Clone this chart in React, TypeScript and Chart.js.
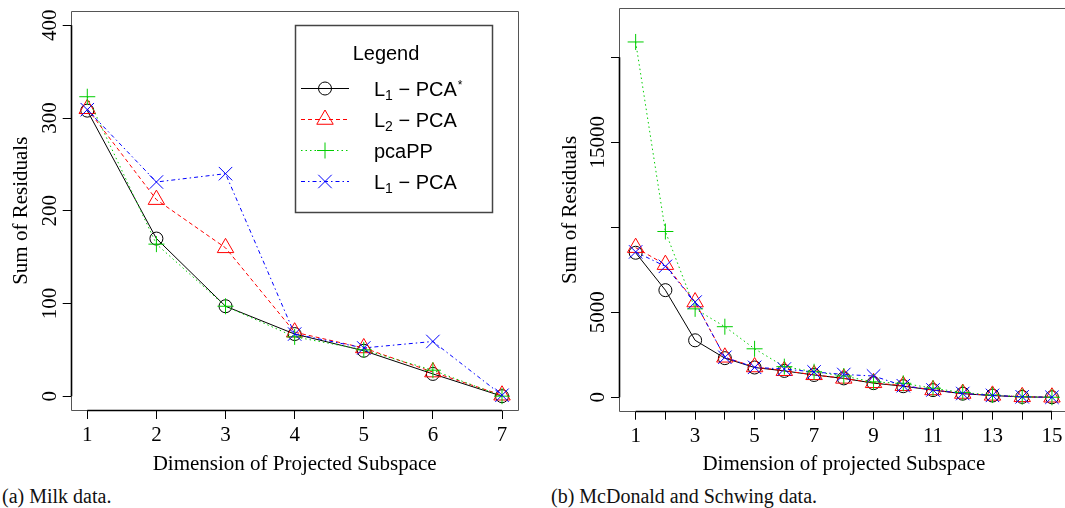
import React, { useEffect, useRef } from "react";
import { Chart, registerables } from "chart.js";
import { drawPoint } from "chart.js/helpers";

Chart.register(...registerables);

// ---------- data: (a) Milk data ----------
const milkDims = [1, 2, 3, 4, 5, 6, 7];
const milkL1Star = [308, 170, 97, 67, 49, 24, 0];
const milkL2 = [310, 212, 160, 69, 52, 26, 1];
const milkPcaPP = [323, 164, 97, 64, 50, 28, 0];
const milkL1 = [309, 231, 240, 67, 52, 59, 1];
const milkYTicks = [0, 100, 200, 300, 400];
const milkYLabels = ["0", "100", "200", "300", "400"];
const milkXLabels = ["1", "2", "3", "4", "5", "6", "7"];

// ---------- data: (b) McDonald and Schwing data ----------
const mcdDims = [1, 2, 3, 4, 5, 6, 7, 8, 9, 10, 11, 12, 13, 14, 15];
const mcdL1Star = [8500, 6300, 3350, 2300, 1750, 1550, 1310, 1110, 830, 650, 420, 210, 100, 20, 0];
const mcdL2 = [8800, 7800, 5600, 2350, 1780, 1560, 1320, 1110, 850, 680, 430, 220, 110, 25, 0];
const mcdPcaPP = [20900, 9750, 5200, 4150, 2850, 1800, 1500, 1250, 900, 820, 530, 280, 130, 30, 0];
const mcdL1 = [8550, 7700, 5600, 2350, 1760, 1660, 1490, 1340, 1250, 680, 430, 220, 110, 25, 0];
const mcdYTicks = [0, 5000, 10000, 15000, 20000];
const mcdYLabels = ["0", "5000", "", "15000", ""];
const mcdXLabels = ["1", "", "3", "", "5", "", "7", "", "9", "", "11", "", "13", "", "15"];

// ---------- series styling ----------
const seriesNames = ["L1-PCA*", "L2-PCA", "pcaPP", "L1-PCA"];
const seriesColors = ["#000000", "#FF0000", "#00CD00", "#0000FF"];
const seriesDashes: number[][] = [[], [4, 3], [1.5, 3], [4, 3, 1.5, 3]];
const seriesPointStyles = ["circle", "triangle", "cross", "crossRot"];
const seriesRadii = [6.5, 9.5, 8, 9.5];

// legend label parts
const legendMain = ["L", "L", "pcaPP", "L"];
const legendSub = ["1", "2", "", "1"];
const legendRest = [" \u2212 PCA", " \u2212 PCA", "", " \u2212 PCA"];
const legendSup = ["*", "", "", ""];

const SERIF = '"Liberation Serif", "Times New Roman", serif';
const SANS = '"Liberation Sans", Arial, sans-serif';

type Params = {
  xs: number[];
  series: number[][];
  xMin: number;
  xMax: number;
  yMin: number;
  yMax: number;
  yTicks: number[];
  yLabels: string[];
  xLabels: string[];
  xTitle: string;
  yTitle: string;
  yAxisWidth: number;
  xAxisHeight: number;
  padTop: number;
  padRight: number;
  yTitlePad: number;
  xTitlePad: number;
  legend: boolean;
};

function framePlugin(p: Params) {
  return {
    id: "rframe",
    beforeDatasetsDraw(chart: any) {
      const { ctx, chartArea: a, scales } = chart;
      ctx.save();
      // plot box
      ctx.strokeStyle = "#555";
      ctx.lineWidth = 1;
      ctx.setLineDash([]);
      ctx.beginPath();
      const L = Math.round(a.left) + 0.5;
      const T = Math.round(a.top) + 0.5;
      const R = Math.round(a.right) - 0.5;
      const B = Math.round(a.bottom) - 0.5;
      ctx.moveTo(L, B);
      ctx.lineTo(L, T);
      ctx.lineTo(R, T);
      ctx.lineTo(R, B);
      ctx.lineTo(L, B);
      ctx.stroke();
      // axis lines spanning the tick range
      ctx.strokeStyle = "#000";
      ctx.lineWidth = 1.6;
      const ys = scales.y;
      const xs = scales.x;
      ctx.beginPath();
      ctx.moveTo(L, ys.getPixelForValue(p.yTicks[0]));
      ctx.lineTo(L, ys.getPixelForValue(p.yTicks[p.yTicks.length - 1]));
      ctx.moveTo(xs.getPixelForValue(p.xs[0]), B);
      ctx.lineTo(xs.getPixelForValue(p.xs[p.xs.length - 1]), B);
      ctx.stroke();
      // rotated y tick labels
      ctx.fillStyle = "#000";
      ctx.font = `21px ${SERIF}`;
      ctx.textAlign = "center";
      ctx.textBaseline = "alphabetic";
      p.yTicks.forEach((v, i) => {
        const lab = p.yLabels[i];
        if (!lab) return;
        const y = ys.getPixelForValue(v);
        ctx.save();
        ctx.translate(a.left - 15, y);
        ctx.rotate(-Math.PI / 2);
        ctx.fillText(lab, 0, 0);
        ctx.restore();
      });
      ctx.restore();
    },
  };
}

const legendPlugin = {
  id: "rlegend",
  afterDatasetsDraw(chart: any) {
    const ctx = chart.ctx;
    ctx.save();
    ctx.setLineDash([]);
    ctx.fillStyle = "#fff";
    ctx.fillRect(295, 25, 197, 187);
    ctx.strokeStyle = "#444";
    ctx.lineWidth = 1.5;
    ctx.strokeRect(295.5, 25.5, 197, 187);
    ctx.fillStyle = "#000";
    ctx.font = `20px ${SANS}`;
    ctx.textAlign = "center";
    ctx.textBaseline = "alphabetic";
    ctx.fillText("Legend", 386, 59.5);
    ctx.textAlign = "left";
    for (let i = 0; i < seriesNames.length; i++) {
      const y = 88.5 + 31 * i;
      ctx.strokeStyle = seriesColors[i];
      ctx.lineWidth = 1;
      ctx.setLineDash(seriesDashes[i]);
      ctx.beginPath();
      ctx.moveTo(301, y);
      ctx.lineTo(349, y);
      ctx.stroke();
      ctx.setLineDash([]);
      ctx.fillStyle = "rgba(0,0,0,0)";
      drawPoint(ctx, { pointStyle: seriesPointStyles[i], radius: seriesRadii[i], borderWidth: 1, rotation: 0 } as any, 325, y);
      // label
      const base = y + 7.7;
      let x = 374;
      ctx.fillStyle = "#000";
      ctx.font = `20px ${SANS}`;
      ctx.fillText(legendMain[i], x, base);
      x += ctx.measureText(legendMain[i]).width;
      if (legendSub[i]) {
        ctx.font = `14px ${SANS}`;
        ctx.fillText(legendSub[i], x, base + 4);
        x += ctx.measureText(legendSub[i]).width;
      }
      if (legendRest[i]) {
        ctx.font = `20px ${SANS}`;
        ctx.fillText(legendRest[i], x, base);
        x += ctx.measureText(legendRest[i]).width;
      }
      if (legendSup[i]) {
        ctx.font = `12px ${SANS}`;
        ctx.fillText(legendSup[i], x + 1, base - 7);
      }
    }
    ctx.restore();
  },
};

function buildConfig(p: Params): any {
  const datasets = p.series.map((vals, i) => ({
    label: seriesNames[i],
    data: p.xs.map((x, j) => ({ x, y: vals[j] })),
    borderColor: seriesColors[i],
    backgroundColor: "rgba(0,0,0,0)",
    borderWidth: 1,
    borderDash: seriesDashes[i],
    pointStyle: seriesPointStyles[i],
    pointRadius: seriesRadii[i],
    pointBorderWidth: 1,
    pointBorderColor: seriesColors[i],
    pointBackgroundColor: "rgba(0,0,0,0)",
    tension: 0,
    order: 3 - i,
    clip: false,
  }));
  const gridOpts = {
    display: true,
    drawOnChartArea: false,
    drawTicks: true,
    tickLength: 8,
    color: "#000",
    lineWidth: 1,
  };
  return {
    type: "line",
    data: { datasets },
    options: {
      responsive: false,
      animation: false,
      events: [],
      devicePixelRatio: 1,
      layout: {
        autoPadding: false,
        padding: { left: 0, top: p.padTop, right: p.padRight, bottom: 0 },
      },
      plugins: { legend: { display: false }, tooltip: { enabled: false } },
      scales: {
        x: {
          type: "linear",
          position: "bottom",
          min: p.xMin,
          max: p.xMax,
          afterBuildTicks: (s: any) => {
            s.ticks = p.xs.map((v) => ({ value: v }));
          },
          afterFit: (s: any) => {
            s.height = p.xAxisHeight;
          },
          grid: gridOpts,
          border: { display: false },
          ticks: {
            autoSkip: false,
            maxRotation: 0,
            minRotation: 0,
            padding: 4,
            color: "#000",
            font: { family: SERIF, size: 21 },
            callback: (_v: any, i: number) => p.xLabels[i] ?? "",
          },
          title: {
            display: true,
            text: p.xTitle,
            color: "#000",
            font: { family: SERIF, size: 21 },
            padding: { top: 0, bottom: p.xTitlePad },
          },
        },
        y: {
          type: "linear",
          position: "left",
          min: p.yMin,
          max: p.yMax,
          afterBuildTicks: (s: any) => {
            s.ticks = p.yTicks.map((v) => ({ value: v }));
          },
          afterFit: (s: any) => {
            s.width = p.yAxisWidth;
          },
          grid: gridOpts,
          border: { display: false },
          ticks: { display: false },
          title: {
            display: true,
            text: p.yTitle,
            color: "#000",
            font: { family: SERIF, size: 21 },
            padding: { top: p.yTitlePad, bottom: 0 },
          },
        },
      },
    },
    plugins: p.legend ? [framePlugin(p), legendPlugin] : [framePlugin(p)],
  };
}

const milkParams: Params = {
  xs: milkDims,
  series: [milkL1Star, milkL2, milkPcaPP, milkL1],
  xMin: 0.76,
  xMax: 7.24,
  yMin: -16,
  yMax: 416,
  yTicks: milkYTicks,
  yLabels: milkYLabels,
  xLabels: milkXLabels,
  xTitle: "Dimension of Projected Subspace",
  yTitle: "Sum of Residuals",
  yAxisWidth: 70.7,
  xAxisHeight: 69,
  padTop: 10.5,
  padRight: 11.4,
  yTitlePad: 8.4,
  xTitlePad: 3.4,
  legend: true,
};

const mcdParams: Params = {
  xs: mcdDims,
  series: [mcdL1Star, mcdL2, mcdPcaPP, mcdL1],
  xMin: 0.44,
  xMax: 15.56,
  yMin: -850,
  yMax: 22880,
  yTicks: mcdYTicks,
  yLabels: mcdYLabels,
  xLabels: mcdXLabels,
  xTitle: "Dimension of projected Subspace",
  yTitle: "Sum of Residuals",
  yAxisWidth: 89,
  xAxisHeight: 68.3,
  padTop: 8.3,
  padRight: 6.4,
  yTitlePad: 27.4,
  xTitlePad: 3.4,
  legend: false,
};

export default function App() {
  const leftRef = useRef<HTMLCanvasElement | null>(null);
  const rightRef = useRef<HTMLCanvasElement | null>(null);

  useEffect(() => {
    const c1 = new Chart(leftRef.current as HTMLCanvasElement, buildConfig(milkParams));
    const c2 = new Chart(rightRef.current as HTMLCanvasElement, buildConfig(mcdParams));
    return () => {
      c1.destroy();
      c2.destroy();
    };
  }, []);

  const captionStyle: React.CSSProperties = {
    position: "absolute",
    top: 486,
    fontFamily: SERIF,
    fontSize: 20,
    lineHeight: "20px",
    color: "#111",
    whiteSpace: "nowrap",
  };

  return (
    <div
      style={{
        position: "fixed",
        left: 0,
        top: 0,
        width: 1065,
        height: 508,
        background: "#fff",
        overflow: "hidden",
      }}
    >
      <canvas
        ref={leftRef}
        width={530}
        height={480}
        style={{ position: "absolute", left: 0, top: 0, width: 530, height: 480 }}
      />
      <canvas
        ref={rightRef}
        width={545}
        height={480}
        style={{ position: "absolute", left: 530, top: 0, width: 545, height: 480 }}
      />
      <div style={{ ...captionStyle, left: 2 }}>(a) Milk data.</div>
      <div style={{ ...captionStyle, left: 551 }}>(b) McDonald and Schwing data.</div>
    </div>
  );
}
